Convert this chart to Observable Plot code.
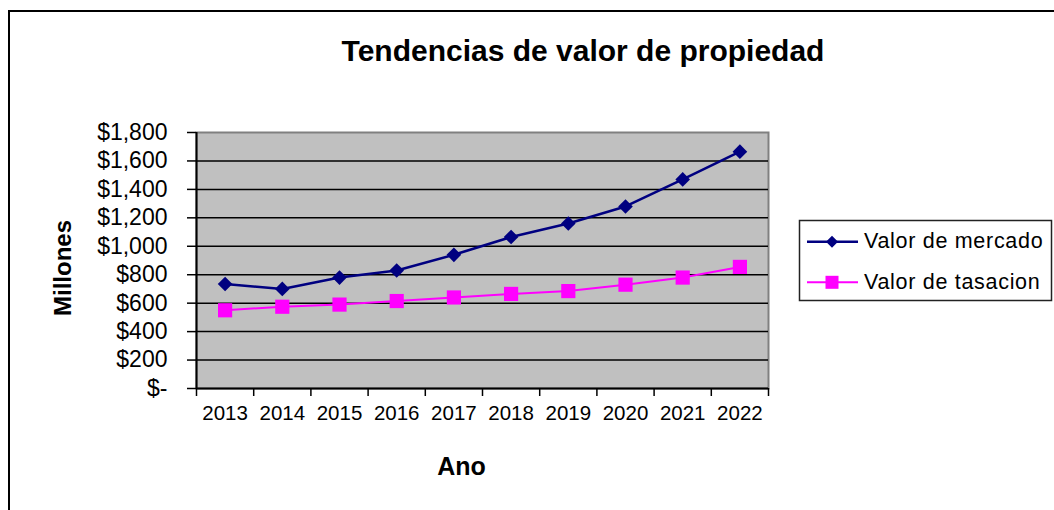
<!DOCTYPE html>
<html>
<head>
<meta charset="utf-8">
<script src="https://cdn.jsdelivr.net/npm/d3@7"></script>
<script src="https://cdn.jsdelivr.net/npm/@observablehq/plot@0.6"></script>
<style>
  html, body { margin: 0; padding: 0; background: #fff; overflow: hidden; }
  #wrap { position: relative; width: 1054px; height: 510px; overflow: hidden; font-family: "Liberation Sans", Arial, sans-serif; }
  #chart { position: absolute; left: 0; top: 0; }
  #overlay { position: absolute; left: 0; top: 0; pointer-events: none; }
</style>
</head>
<body>
<div id="wrap"><div id="chart"></div></div>
<script>
// ---- data ----
const years = [2013, 2014, 2015, 2016, 2017, 2018, 2019, 2020, 2021, 2022];
const valorMercado = [735, 700, 780, 830, 940, 1065, 1160, 1280, 1470, 1665];
const valorTasacion = [550, 575, 590, 615, 640, 665, 685, 730, 780, 855];
const seriesNames = ["Valor de mercado", "Valor de tasacion"];
const seriesColors = ["#000080", "#ff00ff"];
const yTicks = [0, 200, 400, 600, 800, 1000, 1200, 1400, 1600, 1800];
const titleText = "Tendencias de valor de propiedad";
const yLabel = "Millones";
const xLabel = "Ano";

const FONT = "Liberation Sans, Arial, Helvetica, sans-serif";

const rows = years.flatMap((yr, i) => [
  {year: yr, value: valorMercado[i], series: seriesNames[0]},
  {year: yr, value: valorTasacion[i], series: seriesNames[1]}
]);
const mercadoRows = rows.filter(d => d.series === seriesNames[0]);
const tasacionRows = rows.filter(d => d.series === seriesNames[1]);
const bounds = years.map(y => y - 0.5).concat([years[years.length - 1] + 0.5]);
const fmt = d3.format(",");

const chart = Plot.plot({
  width: 1054,
  height: 510,
  marginLeft: 196,
  marginRight: 286,
  marginTop: 132,
  marginBottom: 122,
  style: {fontFamily: FONT, background: "transparent", color: "#000"},
  x: {domain: [bounds[0], bounds[bounds.length - 1]]},
  y: {domain: [yTicks[0], yTicks[yTicks.length - 1]]},
  color: {domain: seriesNames, range: seriesColors},
  marks: [
    Plot.frame({fill: "#c0c0c0", stroke: "#808080", strokeWidth: 2}),
    Plot.gridY(yTicks.slice(1, -1), {stroke: "#000", strokeOpacity: 1, strokeWidth: 1.5}),
    Plot.axisY(yTicks, {
      tickFormat: d => d === 0 ? "$-" : "$" + fmt(d),
      tickSize: 9, tickPadding: 20, fontSize: 23, label: null,
      strokeWidth: 1.5, style: "letter-spacing:1px"
    }),
    Plot.axisX(bounds, {tickFormat: () => "", tickSize: 8, label: null, strokeWidth: 1.5}),
    Plot.axisX(years, {tickFormat: d => String(d), tickSize: 0, tickPadding: 17, fontSize: 20.5, label: null}),
    Plot.ruleX([bounds[0]], {stroke: "#000", strokeWidth: 2}),
    Plot.ruleY([yTicks[0]], {stroke: "#000", strokeWidth: 2}),
    Plot.line(mercadoRows, {x: "year", y: "value", stroke: "series", strokeWidth: 2.5}),
    Plot.line(tasacionRows, {x: "year", y: "value", stroke: "series", strokeWidth: 2}),
    Plot.dot(mercadoRows, {x: "year", y: "value", fill: "series", symbol: "diamond2", r: 6.6}),
    Plot.dot(tasacionRows, {x: "year", y: "value", fill: "series", symbol: "square", r: 8})
  ]
});
document.getElementById("chart").appendChild(chart);

// ---- overlay: frame border, title, axis titles, legend ----
const svg = d3.select("#wrap").append("svg")
  .attr("id", "overlay").attr("width", 1054).attr("height", 510)
  .style("font-family", FONT);

svg.append("rect").attr("x", 9).attr("y", 11).attr("width", 1200).attr("height", 1000)
  .attr("fill", "none").attr("stroke", "#000").attr("stroke-width", 2);

svg.append("text").attr("x", 583).attr("y", 61).attr("text-anchor", "middle")
  .attr("font-weight", "bold").attr("font-size", 30).attr("fill", "#000").text(titleText);

svg.append("text").attr("transform", "translate(71,268) rotate(-90)").attr("text-anchor", "middle")
  .attr("font-weight", "bold").attr("font-size", 24).attr("fill", "#000").text(yLabel);

svg.append("text").attr("x", 461.5).attr("y", 475).attr("text-anchor", "middle")
  .attr("font-weight", "bold").attr("font-size", 25).attr("fill", "#000").text(xLabel);

const lg = svg.append("g");
lg.append("rect").attr("x", 799.5).attr("y", 220.5).attr("width", 252).attr("height", 80)
  .attr("fill", "#fff").attr("stroke", "#222").attr("stroke-width", 1.5);
const rowY = [241.7, 282.3];
seriesNames.forEach((name, i) => {
  const y = rowY[i];
  lg.append("line").attr("x1", 807).attr("x2", 858).attr("y1", y).attr("y2", y)
    .attr("stroke", seriesColors[i]).attr("stroke-width", i === 0 ? 2.5 : 2);
  if (i === 0) {
    lg.append("path").attr("d", `M832,${y - 6}L838,${y}L832,${y + 6}L826,${y}Z`).attr("fill", seriesColors[i]);
  } else {
    lg.append("rect").attr("x", 825.5).attr("y", y - 6.5).attr("width", 13).attr("height", 13).attr("fill", seriesColors[i]);
  }
  lg.append("text").attr("x", 864).attr("y", y + 6.5).attr("font-size", 21.5)
    .attr("letter-spacing", "0.7px").attr("fill", "#000").text(name);
});
</script>
</body>
</html>
